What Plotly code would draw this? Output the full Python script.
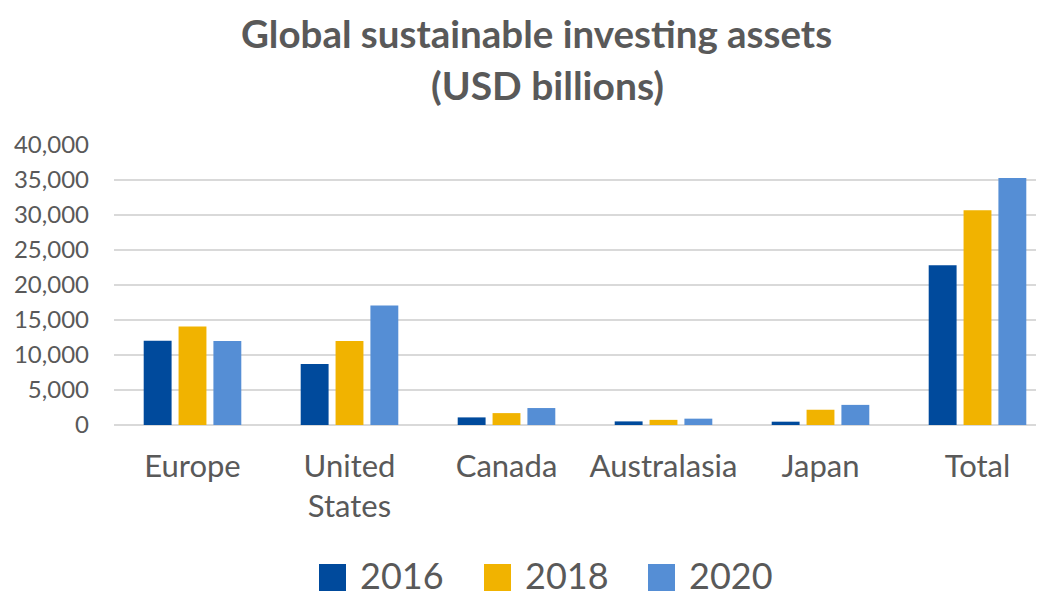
import plotly.graph_objects as go

categories = ["Europe", "United<br>States", "Canada", "Australasia", "Japan", "Total"]
years = ["2016", "2018", "2020"]
values_2016 = [12040, 8723, 1086, 516, 474, 22839]
values_2018 = [14075, 11995, 1699, 734, 2180, 30683]
values_2020 = [12017, 17081, 2423, 906, 2874, 35301]
y_ticks = [0, 5000, 10000, 15000, 20000, 25000, 30000, 35000, 40000]
colors = ["#004A9C", "#F1B300", "#558ED5"]

OFF = 8  # page body margin
W, H = 1036, 590
ML, MR, MT, MB = 106, 0, 137, 173
FONT = "Lato"
GRAY = "#595959"

def px_x(p):
    return (p - OFF - ML) / (W - ML - MR)

def px_y(p):
    return (H - MB - (p - OFF)) / (H - MT - MB)

fig = go.Figure()
for yr, vals, c in zip(years, [values_2016, values_2018, values_2020], colors):
    fig.add_trace(go.Bar(name=yr, x=list(range(len(categories))), y=vals,
                         marker=dict(color=c, line=dict(width=0)), showlegend=False))

fig.update_layout(
    width=W, height=H,
    margin=dict(l=ML, r=MR, t=MT, b=MB),
    paper_bgcolor="white", plot_bgcolor="white",
    barmode="group", bargap=0.334, bargroupgap=0.2,
    font=dict(family=FONT, color=GRAY),
)
fig.update_xaxes(
    tickmode="array", tickvals=list(range(len(categories))), ticktext=categories,
    range=[-0.5, 5.5 - 12 / 157], showgrid=False, zeroline=False, showline=False,
    tickfont=dict(size=31, color=GRAY, family=FONT), ticklabelstandoff=20,
)
fig.update_yaxes(
    range=[0, 40000], tickvals=y_ticks, tickformat=",d",
    gridcolor="#D9D9D9", gridwidth=1.5, zeroline=True, zerolinecolor="#D9D9D9", zerolinewidth=1.5,
    showline=False, tickfont=dict(size=24, color=GRAY, family=FONT), ticklabelstandoff=24,
)

# Title
fig.add_annotation(text="<b>Global sustainable investing assets</b>", xref="paper", yref="paper",
                   x=px_x(536), y=px_y(33), showarrow=False, xanchor="center", yanchor="middle",
                   font=dict(size=38.5, color=GRAY, family=FONT))
fig.add_annotation(text="<b>(USD billions)</b>", xref="paper", yref="paper",
                   x=px_x(547), y=px_y(85), showarrow=False, xanchor="center", yanchor="middle",
                   font=dict(size=39, color=GRAY, family=FONT))

# Legend
sq_left = [319, 484, 648]
for yr, c, L in zip(years, colors, sq_left):
    fig.add_shape(type="rect", xref="paper", yref="paper",
                  x0=px_x(L), x1=px_x(L + 27), y0=px_y(591), y1=px_y(564),
                  fillcolor=c, line=dict(width=0))
    fig.add_annotation(text=yr, xref="paper", yref="paper", x=px_x(L + 39), y=px_y(575),
                       showarrow=False, xanchor="left", yanchor="middle",
                       font=dict(size=36, color=GRAY, family=FONT))

fig.write_html("out.html")
